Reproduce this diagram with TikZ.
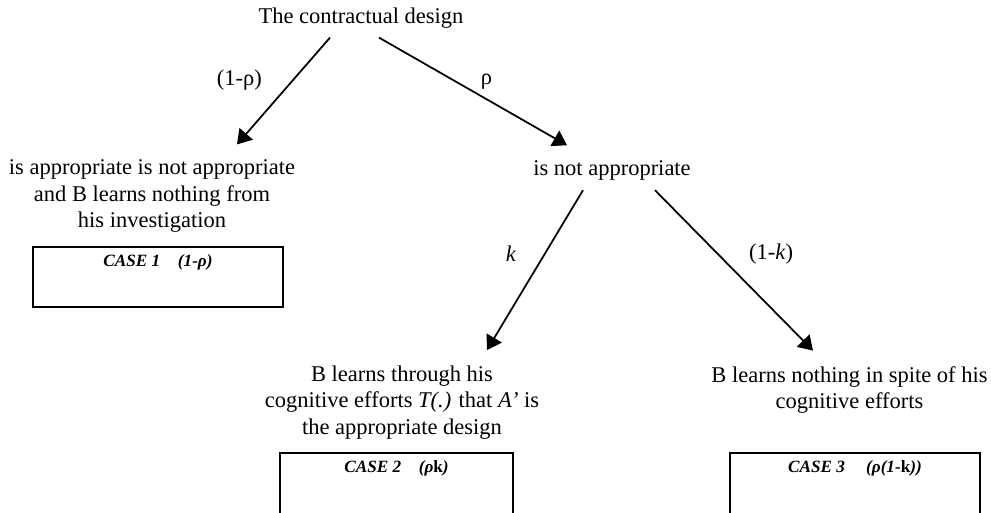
\documentclass[tikz,border=0pt]{standalone}
\usepackage{fontspec}
\setmainfont{Liberation Serif}
\usetikzlibrary{arrows.meta,positioning}

\begin{document}
\begin{tikzpicture}[font=\fontsize{12.8}{15}\selectfont, line width=1pt,
    >={Triangle[length=8pt,width=10pt]}]

  \clip (0,0) rectangle (19.82,10.24);

  \begin{scope}[every node/.style={align=center,inner sep=0pt}]
    \node (design)  at (7.22,9.88)  {The contractual design};
    \node (appr)    at (3.04,6.32)  {is appropriate is not appropriate\\and B learns nothing from\\his investigation};
    \node (notappr) at (12.24,6.84) {is not appropriate};
    \node (learns)  at (8.04,2.19)  {B learns through his\\cognitive efforts \textit{T(.)} that \textit{A’} is\\the appropriate design};
    \node (nothing) at (16.99,2.44) {B learns nothing in spite of his\\cognitive efforts};
  \end{scope}

  % the three cases
  \begin{scope}[every node/.style={draw,line width=1.2pt,minimum width=5cm}]
    \node[minimum height=1.2cm] (case1) at (3.16,4.70) {};
    \node[minimum height=1.3cm,minimum width=4.66cm] (case2) at (7.93,0.53) {};
    \node[minimum height=1.3cm] (case3) at (17.10,0.53) {};
  \end{scope}

  \begin{scope}[every node/.style={font=\fontsize{9.8}{11}\selectfont\bfseries\itshape,inner sep=0pt}]
    \node[below=.16cm of case1.north] (lbl1) {CASE 1\hspace{10pt}(1-ρ)};
    \node[below=.16cm of case2.north] (lbl2) {CASE 2\hspace{10pt}(ρ\textup{k})};
    \node[below=.16cm of case3.north] (lbl3) {CASE 3\hspace{12pt}(ρ(1-\textup{k}))};
  \end{scope}

  \begin{scope}[every node/.style={inner sep=0pt}]
    \begin{scope}[every edge/.style={draw,->}]
      \path ([xshift=-.62cm,yshift=-.17cm]design.south) edge node[pos=.4,left=.6cm] {(1-ρ)} ([xshift=1.7cm,yshift=.29cm]appr.north);
      \path ([xshift=.36cm,yshift=-.17cm]design.south) edge node[pos=.41,right=.48cm] {ρ} ([xshift=-.9cm,yshift=.28cm]notappr.north);
      \path ([xshift=-.58cm,yshift=-.19cm]notappr.south) edge node[pos=.4,left=.55cm] {\textit{k}} ([xshift=1.7cm,yshift=.3cm]learns.north);
      \path ([xshift=.86cm,yshift=-.19cm]notappr.south) edge node[pos=.4,right=.6cm] {(1-\textit{k})} ([xshift=-.73cm,yshift=.3cm]nothing.north);
    \end{scope}
  \end{scope}

\end{tikzpicture}
\end{document}
